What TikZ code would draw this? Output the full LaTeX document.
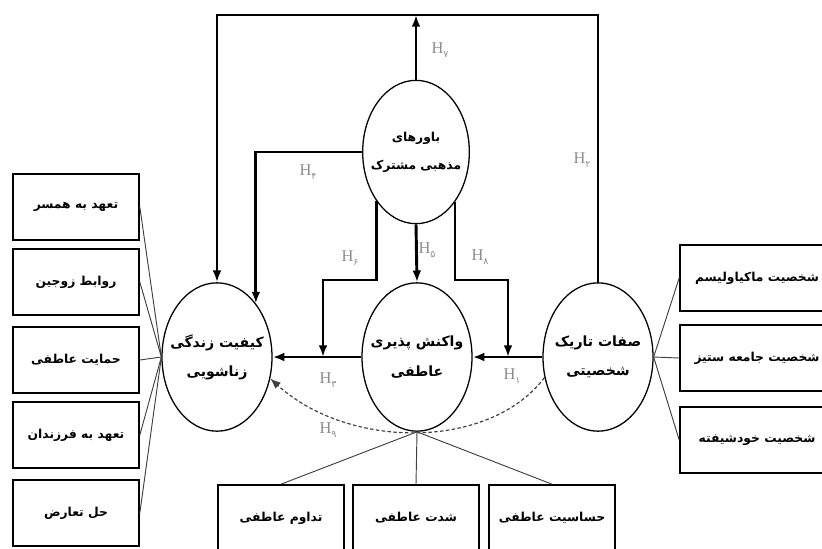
\documentclass[tikz,border=0pt]{standalone}
\usepackage{fontspec}
\TeXXeTstate=1
\newfontfamily\fa[Script=Arabic]{DejaVu Sans}
\newfontfamily\hfont{Liberation Serif}
\usetikzlibrary{shapes.geometric,arrows.meta}
\newcommand{\rl}[1]{\beginR #1\endR}
\newcommand{\hyp}[1]{{\hfont H}\raisebox{-0.5ex}{\fa\fontsize{8}{9}\selectfont #1}}
\begin{document}
\begin{tikzpicture}[x=0.03cm,y=-0.03cm,
  ell/.style={ellipse, draw, line width=1.1pt, minimum width=3.3cm, minimum height=4.45cm, inner xsep=-14pt, inner ysep=0pt, align=center, font=\fa\bfseries\fontsize{12}{25}\selectfont},
  bx/.style={rectangle, draw, line width=1.4pt, minimum width=3.78cm, minimum height=1.98cm, inner sep=0pt, font=\fa\bfseries\fontsize{10.5}{12}\selectfont},
  main/.style={line width=2.5pt, -{Latex[length=10pt,width=7.5pt]}},
  conn/.style={line width=0.8pt, draw=black!75},
  lab/.style={text=black!45, font=\fontsize{14}{15}\selectfont, inner sep=0pt}]
\useasboundingbox (0,0) rectangle (822,548);
\clip (0,0) rectangle (822,548);
% ellipses
\node[ell] (Q) at (217,357) {\rl{کیفیت زندگی}\\\rl{زناشویی}};
\node[ell] (R) at (417,357) {\rl{واکنش پذیری}\\\rl{عاطفی}};
\node[ell, minimum width=3.2cm, minimum height=4.3cm, inner xsep=-20pt, font=\fa\bfseries\fontsize{10.5}{24}\selectfont] (T) at (416,152) {\rl{باورهای}\\\rl{مذهبی مشترک}};
\node[ell] (D) at (598,357) {\rl{صفات تاریک}\\\rl{شخصیتی}};
% left boxes
\node[bx] (L1) at (76,207) {\rl{تعهد به همسر}};
\node[bx] (L2) at (76,282) {\rl{روابط زوجین}};
\node[bx] (L3) at (76,360) {\rl{حمایت عاطفی}};
\node[bx] (L4) at (76,435) {\rl{تعهد به فرزندان}};
\node[bx] (L5) at (76,513) {\rl{حل تعارض}};
% right boxes
\node[bx, minimum width=4.62cm] (P1) at (757,278) {\rl{شخصیت ماکیاولیسم}};
\node[bx, minimum width=4.62cm] (P2) at (757,358) {\rl{شخصیت جامعه ستیز}};
\node[bx, minimum width=4.62cm] (P3) at (757,440) {\rl{شخصیت خودشیفته}};
% bottom boxes
\node[bx] (B1) at (281,518) {\rl{تداوم عاطفی}};
\node[bx] (B2) at (416,518) {\rl{شدت عاطفی}};
\node[bx] (B3) at (552,518) {\rl{حساسیت عاطفی}};
% thin connectors
\foreach \b in {L1,L2,L3,L4,L5} \draw[conn] (\b.east) -- (Q.west);
\foreach \b in {P1,P2,P3} \draw[conn] (\b.west) -- (D.east);
\foreach \b in {B1,B2,B3} \draw[conn] (\b.north) -- (R.south);
% coordinates
\coordinate (tp) at (416,15);
\coordinate (m6a) at (323,280);
\coordinate (m6) at (323,357);
\coordinate (m8a) at (508,280);
\coordinate (m8) at (508,357);
% main arrows
\draw[main] (D.west) -- (R.east);
\draw[main] (R.west) -- (Q.east);
\draw[main] (D.north) |- (tp) -| (Q.north);
\draw[main] (T.north) -- (tp);
\draw[main] (T.west) -| (Q.54);
\draw[main] (T.south) -- (R.north);
\draw[main] (T.231.5) |- (m6a) -- (m6);
\draw[main] (T.308.5) |- (m8a) -- (m8);
\draw[line width=1pt, draw=black!75, dash pattern=on 3pt off 2pt, -{Latex[length=9pt,width=7pt]}] (D.201) .. controls (490,450) and (349,450) .. (Q.338);
% labels
\node[lab] (h7) at (440,50) {\hyp{۷}};
\node[lab] (h2) at (582,160) {\hyp{۲}};
\node[lab] (h4) at (308,172) {\hyp{۴}};
\node[lab] (h6) at (350,258) {\hyp{۶}};
\node[lab] (h5) at (427,250) {\hyp{۵}};
\node[lab] (h8) at (480,257) {\hyp{۸}};
\node[lab] (h3) at (328,380) {\hyp{۳}};
\node[lab] (h1) at (512,376) {\hyp{۱}};
\node[lab] (h9) at (328,430) {\hyp{۹}};
\end{tikzpicture}
\end{document}
